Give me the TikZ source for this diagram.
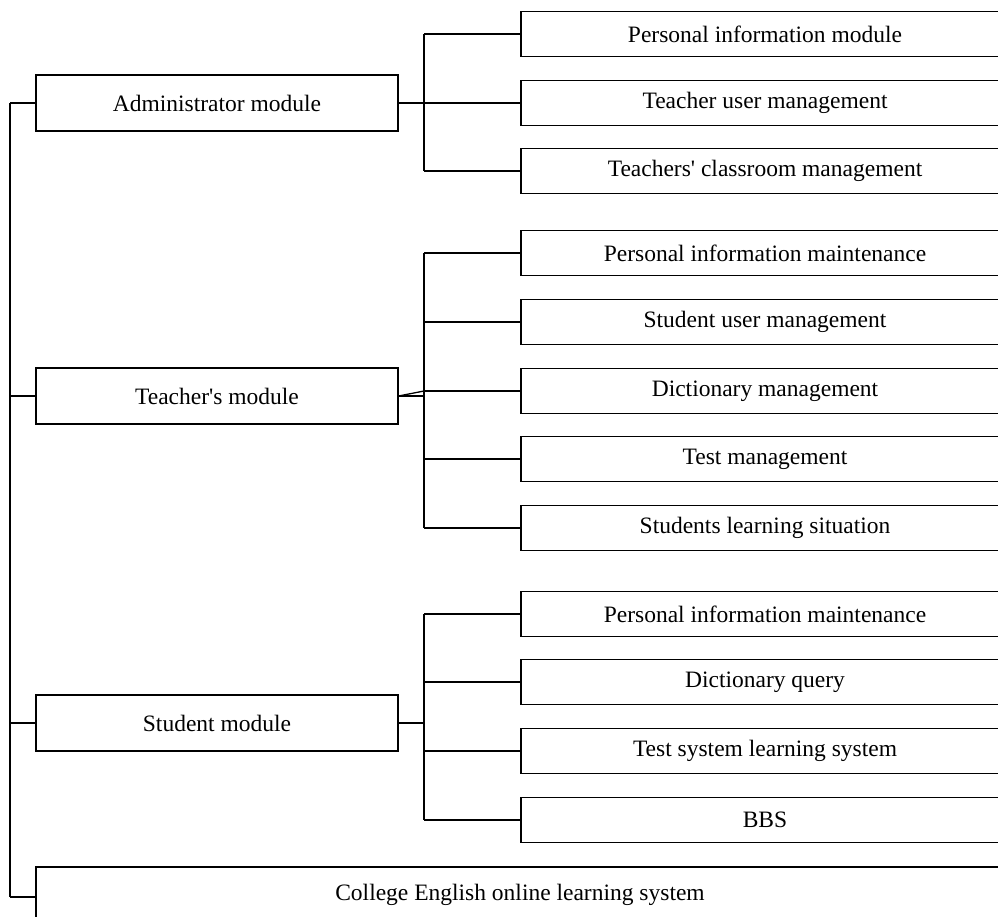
\documentclass[tikz,border=0pt]{standalone}
\usepackage{fontspec}
\setmainfont{Liberation Serif}[Ligatures=TeXOff]
\begin{document}
\begin{tikzpicture}[x=1pt,y=-1pt,
  line width=1.3pt,
  modbox/.style={draw,minimum width=362pt,minimum height=56pt,inner sep=0pt,font=\fontsize{23.5}{28}\selectfont},
  subbox/.style={draw,minimum width=488pt,minimum height=45pt,inner sep=0pt,font=\fontsize{23.5}{28}\selectfont},
  wire/.style={line width=1.3pt}]
\clip (0,0) rectangle (998,917);
\fill[white] (0,0) rectangle (998,917);
% module boxes
\node[modbox] (A) at (217,103) {Administrator module};
\node[modbox] (T) at (217,396) {Teacher's module};
\node[modbox] (S) at (217,723) {Student module};
\node[draw,minimum width=968pt,minimum height=56pt,inner sep=0pt,font=\fontsize{23.5}{28}\selectfont] (C) at (520,895) {College English online learning system};
% admin sub
\node[subbox] (a1) at (765,34) {Personal information module};
\node[subbox] (a2) at (765,103) {Teacher user management};
\node[subbox] (a3) at (765,171) {Teachers' classroom management};
% teacher sub
\node[subbox] (t1) at (765,253) {Personal information maintenance};
\node[subbox] (t2) at (765,322) {Student user management};
\node[subbox] (t3) at (765,391) {Dictionary management};
\node[subbox] (t4) at (765,459) {Test management};
\node[subbox] (t5) at (765,528) {Students learning situation};
% student sub
\node[subbox] (s1) at (765,614) {Personal information maintenance};
\node[subbox] (s2) at (765,682) {Dictionary query};
\node[subbox] (s3) at (765,751) {Test system learning system};
\node[subbox] (s4) at (765,820) {BBS};
% junction coordinates
\coordinate (bus) at (10,0);
\coordinate (jx) at (424,0);
% left bus
\draw[wire] (bus |- A.west) -- ([yshift=-2pt]bus |- C.west);
\draw[wire] (bus |- A.west) -- (A.west);
\draw[wire] (bus |- T.west) -- (T.west);
\draw[wire] (bus |- S.west) -- (S.west);
\draw[wire] ([yshift=-2pt]bus |- C.west) -- ([yshift=-2pt]C.west);
% admin tree
\draw[wire] (A.east) -- (jx |- A.east);
\draw[wire] (jx |- a1.west) -- (jx |- a3.west);
\foreach \n in {a1,a2,a3} \draw[wire] (jx |- \n.west) -- (\n.west);
% teacher tree
\draw[wire] (T.east) -- (jx |- T.east);
\draw[wire] (T.east) -- (jx |- t3.west);
\draw[wire] (jx |- t1.west) -- (jx |- t5.west);
\foreach \n in {t1,t2,t3,t4,t5} \draw[wire] (jx |- \n.west) -- (\n.west);
% student tree
\draw[wire] (S.east) -- (jx |- S.east);
\draw[wire] (jx |- s1.west) -- (jx |- s4.west);
\foreach \n in {s1,s2,s3,s4} \draw[wire] (jx |- \n.west) -- (\n.west);
\end{tikzpicture}
\end{document}
